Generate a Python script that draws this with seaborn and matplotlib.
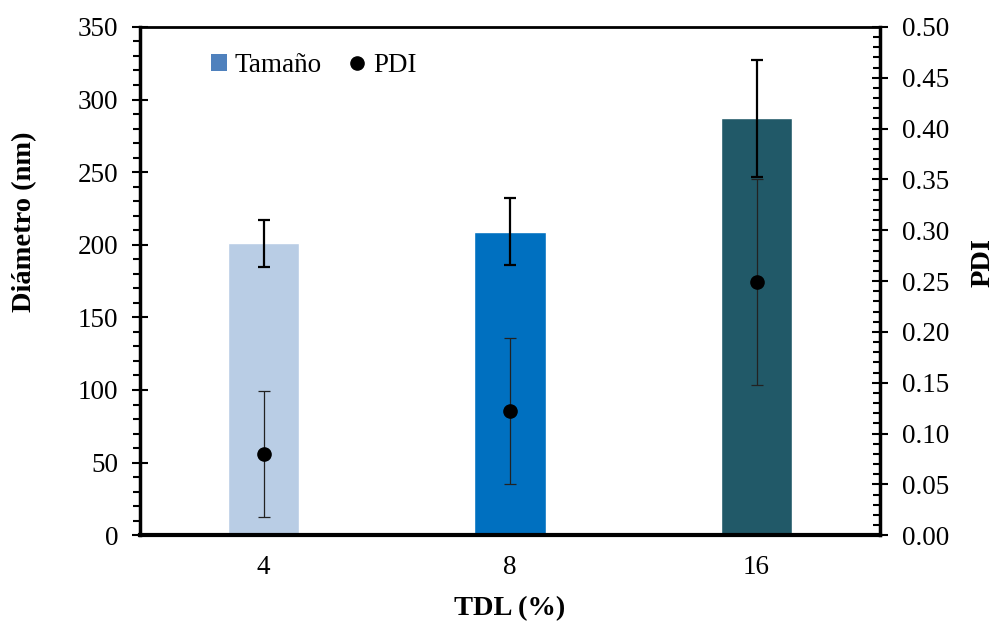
import matplotlib
matplotlib.use("Agg")
import matplotlib.pyplot as plt
from matplotlib.lines import Line2D
from matplotlib.patches import Patch
from matplotlib.ticker import MultipleLocator, FormatStrFormatter
import seaborn as sns
import pandas as pd

# Data
tdl = ["4", "8", "16"]
diametro = [201, 209, 287]
diametro_err = [16, 23, 40]
pdi = [0.080, 0.122, 0.249]
pdi_err = [0.062, 0.072, 0.101]
bar_colors = ["#B9CDE5", "#0070C0", "#215968"]

sns.set_theme(style="white")
plt.rcParams["font.family"] = ["Liberation Serif", "DejaVu Serif"]
plt.rcParams.update({
    "text.color": "black",
    "axes.labelcolor": "black",
    "xtick.color": "black",
    "ytick.color": "black",
})

df = pd.DataFrame({"TDL": tdl, "Diametro": diametro})

fig = plt.figure(figsize=(10.02, 6.26), dpi=100)
ax = fig.add_axes([0.14, 0.145, 0.738, 0.812])

sns.barplot(data=df, x="TDL", y="Diametro", hue="TDL", palette=bar_colors,
            width=0.29, legend=False, ax=ax, saturation=1)
ax.errorbar(range(len(tdl)), diametro, yerr=diametro_err, fmt="none",
            ecolor="black", elinewidth=1.6, capsize=4.5, capthick=1.6, zorder=4)

ax.set_xlim(-0.5, 2.5)
ax.set_ylim(0, 350)
ax.yaxis.set_major_locator(MultipleLocator(50))
ax.yaxis.set_minor_locator(MultipleLocator(10))
ax.tick_params(axis="y", which="major", direction="inout", length=12, width=1.5,
               labelsize=19.5, pad=10, left=True)
ax.tick_params(axis="y", which="minor", direction="out", length=5, width=1.5, left=True)
ax.tick_params(axis="x", which="both", length=0, labelsize=19.5, pad=14)
ax.set_xlabel("TDL (%)", fontsize=20.5, fontweight="bold", labelpad=12)
ax.set_ylabel("Diámetro (nm)", fontsize=20.5, fontweight="bold")
ax.yaxis.set_label_coords(-0.14, 0.616)
for side in ["left", "bottom", "top", "right"]:
    ax.spines[side].set_visible(True)
    ax.spines[side].set_color("black")
ax.spines["left"].set_linewidth(2.5)
ax.spines["bottom"].set_linewidth(3)
ax.spines["top"].set_linewidth(2)
ax.spines["right"].set_linewidth(2.5)

ax2 = ax.twinx()
ax2.errorbar(range(len(tdl)), pdi, yerr=pdi_err, fmt="o", color="black",
             markersize=9.5, ecolor="#222222", elinewidth=0.9, capsize=4.5,
             capthick=0.9, zorder=5)
ax2.set_ylim(0, 0.5)
ax2.yaxis.set_major_locator(MultipleLocator(0.05))
ax2.yaxis.set_minor_locator(MultipleLocator(0.01))
ax2.yaxis.set_major_formatter(FormatStrFormatter("%.2f"))
ax2.tick_params(axis="y", which="major", direction="inout", length=12, width=1.5,
                labelsize=19.5, pad=10, right=True)
ax2.tick_params(axis="y", which="minor", direction="in", length=5, width=1.5, right=True)
ax2.set_ylabel("PDI", fontsize=20.5, fontweight="bold")
ax2.yaxis.set_label_coords(1.123, 0.537)
for side in ["left", "bottom", "top", "right"]:
    ax2.spines[side].set_visible(False)

handles = [
    Patch(facecolor="#4F81BD", edgecolor="none", label="Tamaño"),
    Line2D([], [], marker="o", color="black", linestyle="none", markersize=9.5, label="PDI"),
]
ax.legend(handles=handles, loc="upper left", bbox_to_anchor=(0.062, 0.997), ncol=2,
          frameon=False, fontsize=19.5, handlelength=0.6, handleheight=0.6,
          handletextpad=0.3, columnspacing=1.0)

fig.savefig("out.png", dpi=100)
